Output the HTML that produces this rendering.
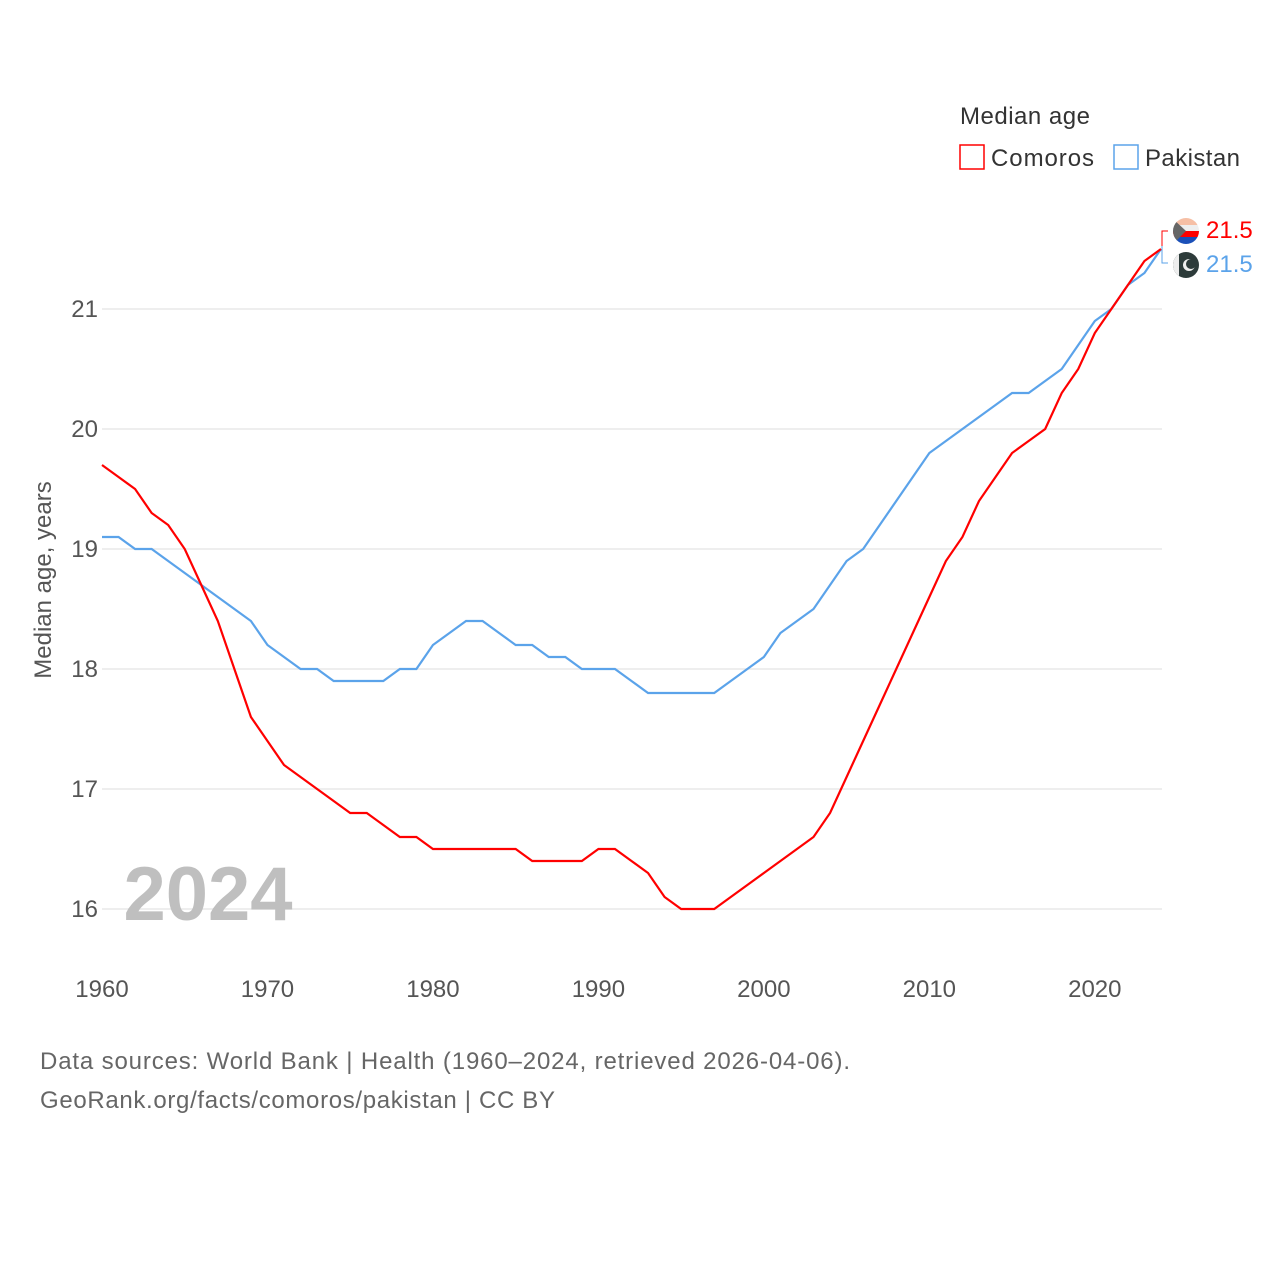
<!DOCTYPE html>
<html><head><meta charset="utf-8"><style>
body{margin:0;background:#fff;}
svg{font-family:"Liberation Sans",sans-serif;}
</style></head><body>
<svg id="chart" width="1280" height="1280" viewBox="0 0 1280 1280">
<g id="grid"></g>
<g id="yticks"></g>
<g id="xticks"></g>
<text x="208" y="920" font-size="76" font-weight="bold" fill="#bfbfbf" text-anchor="middle">2024</text>
<text transform="translate(51,580) rotate(-90)" font-size="24" fill="#555" text-anchor="middle">Median age, years</text>
<g id="lines"></g>
<g>
<text x="960" y="124" font-size="24" fill="#333" textLength="130">Median age</text>
<g><rect x="960" y="145" width="24" height="24" fill="none" stroke="#f00" stroke-width="1.5"/><text x="991" y="166" font-size="24" fill="#333" textLength="103">Comoros</text></g>
<g><rect x="1114" y="145" width="24" height="24" fill="none" stroke="#5ba3ea" stroke-width="1.5"/><text x="1145" y="166" font-size="24" fill="#333" textLength="95">Pakistan</text></g>
</g>
<g id="endlabels">
<path d="M1162 246 L1162 231 L1168 231" fill="none" stroke="#f00" stroke-width="1"/>
<path d="M1162 246 L1162 263 L1168 263" fill="none" stroke="#5ba3ea" stroke-width="1"/>
<g><clipPath id="c1"><circle cx="1186" cy="231" r="13"/></clipPath><g clip-path="url(#c1)"><rect x="1172" y="218" width="28" height="7" fill="#f6bfa5"/><rect x="1172" y="225" width="28" height="6" fill="#eee"/><rect x="1172" y="231" width="28" height="6" fill="#f00"/><rect x="1172" y="237" width="28" height="8" fill="#1b50b8"/><path d="M1172 218 L1186 231 L1172 245Z" fill="#666"/></g></g>
<g><clipPath id="c2"><circle cx="1186" cy="265" r="13"/></clipPath><g clip-path="url(#c2)"><rect x="1172" y="252" width="28" height="28" fill="#2d3b3a"/><rect x="1172" y="252" width="7" height="28" fill="#eee"/><circle cx="1189" cy="265" r="6" fill="#eee"/><circle cx="1191" cy="264" r="5" fill="#2d3b3a"/></g></g>
<text x="1206" y="238" font-size="24" fill="#f00">21.5</text>
<text x="1206" y="272" font-size="24" fill="#5ba3ea">21.5</text>
</g>
<text x="40" y="1069" font-size="24" fill="#666" textLength="810">Data sources: World Bank | Health (1960–2024, retrieved 2026-04-06).</text>
<text x="40" y="1108" font-size="24" fill="#666" textLength="515">GeoRank.org/facts/comoros/pakistan | CC BY</text>
</svg>
<script>
const years = [];
for (let y = 1960; y <= 2024; y++) years.push(y);
const comoros = [19.7,19.6,19.5,19.3,19.2,19.0,18.7,18.4,18.0,17.6,17.4,17.2,17.1,17.0,16.9,16.8,16.8,16.7,16.6,16.6,16.5,16.5,16.5,16.5,16.5,16.5,16.4,16.4,16.4,16.4,16.5,16.5,16.4,16.3,16.1,16.0,16.0,16.0,16.1,16.2,16.3,16.4,16.5,16.6,16.8,17.1,17.4,17.7,18.0,18.3,18.6,18.9,19.1,19.4,19.6,19.8,19.9,20.0,20.3,20.5,20.8,21.0,21.2,21.4,21.5];
const pakistan = [19.1,19.1,19.0,19.0,18.9,18.8,18.7,18.6,18.5,18.4,18.2,18.1,18.0,18.0,17.9,17.9,17.9,17.9,18.0,18.0,18.2,18.3,18.4,18.4,18.3,18.2,18.2,18.1,18.1,18.0,18.0,18.0,17.9,17.8,17.8,17.8,17.8,17.8,17.9,18.0,18.1,18.3,18.4,18.5,18.7,18.9,19.0,19.2,19.4,19.6,19.8,19.9,20.0,20.1,20.2,20.3,20.3,20.4,20.5,20.7,20.9,21.0,21.2,21.3,21.5];
const yTicks = [16,17,18,19,20,21];
const xTicks = [1960,1970,1980,1990,2000,2010,2020];
const NS = "http://www.w3.org/2000/svg";
const xS = v => 102 + (v - 1960) * (1161 - 102) / 64;
const yS = v => 909 - (v - 16) * 120;
const grid = document.getElementById('grid'), yt = document.getElementById('yticks'), xt = document.getElementById('xticks'), lines = document.getElementById('lines');
yTicks.forEach(t => {
  const l = document.createElementNS(NS, 'line');
  
  
  l.setAttribute('x1', 102); l.setAttribute('x2', 1162);
  l.setAttribute('y1', yS(t)); l.setAttribute('y2', yS(t));
  l.setAttribute('stroke', '#e8e8e8'); l.setAttribute('stroke-width', '1.5');
  grid.appendChild(l);
  const tx = document.createElementNS(NS, 'text');
  
  
  tx.setAttribute('x', 98); tx.setAttribute('y', yS(t) + 8);
  tx.setAttribute('text-anchor', 'end'); tx.setAttribute('font-size', '24'); tx.setAttribute('fill', '#555');
  tx.textContent = t; yt.appendChild(tx);
});
xTicks.forEach(t => {
  const tx = document.createElementNS(NS, 'text');
  
  
  tx.setAttribute('x', xS(t)); tx.setAttribute('y', 997);
  tx.setAttribute('text-anchor', 'middle'); tx.setAttribute('font-size', '24'); tx.setAttribute('fill', '#555');
  tx.textContent = t; xt.appendChild(tx);
});
function draw(vals, color, name) {
  const p = document.createElementNS(NS, 'polyline');
  
  
  p.setAttribute('points', vals.map((v, i) => xS(years[i]) + ',' + yS(v)).join(' '));
  p.setAttribute('fill', 'none'); p.setAttribute('stroke', color); p.setAttribute('stroke-width', '2.2');
  lines.appendChild(p);
}
draw(pakistan, '#5ba3ea', 'pakistan-line');
draw(comoros, '#ff0000', 'comoros-line');
</script>
</body></html>
